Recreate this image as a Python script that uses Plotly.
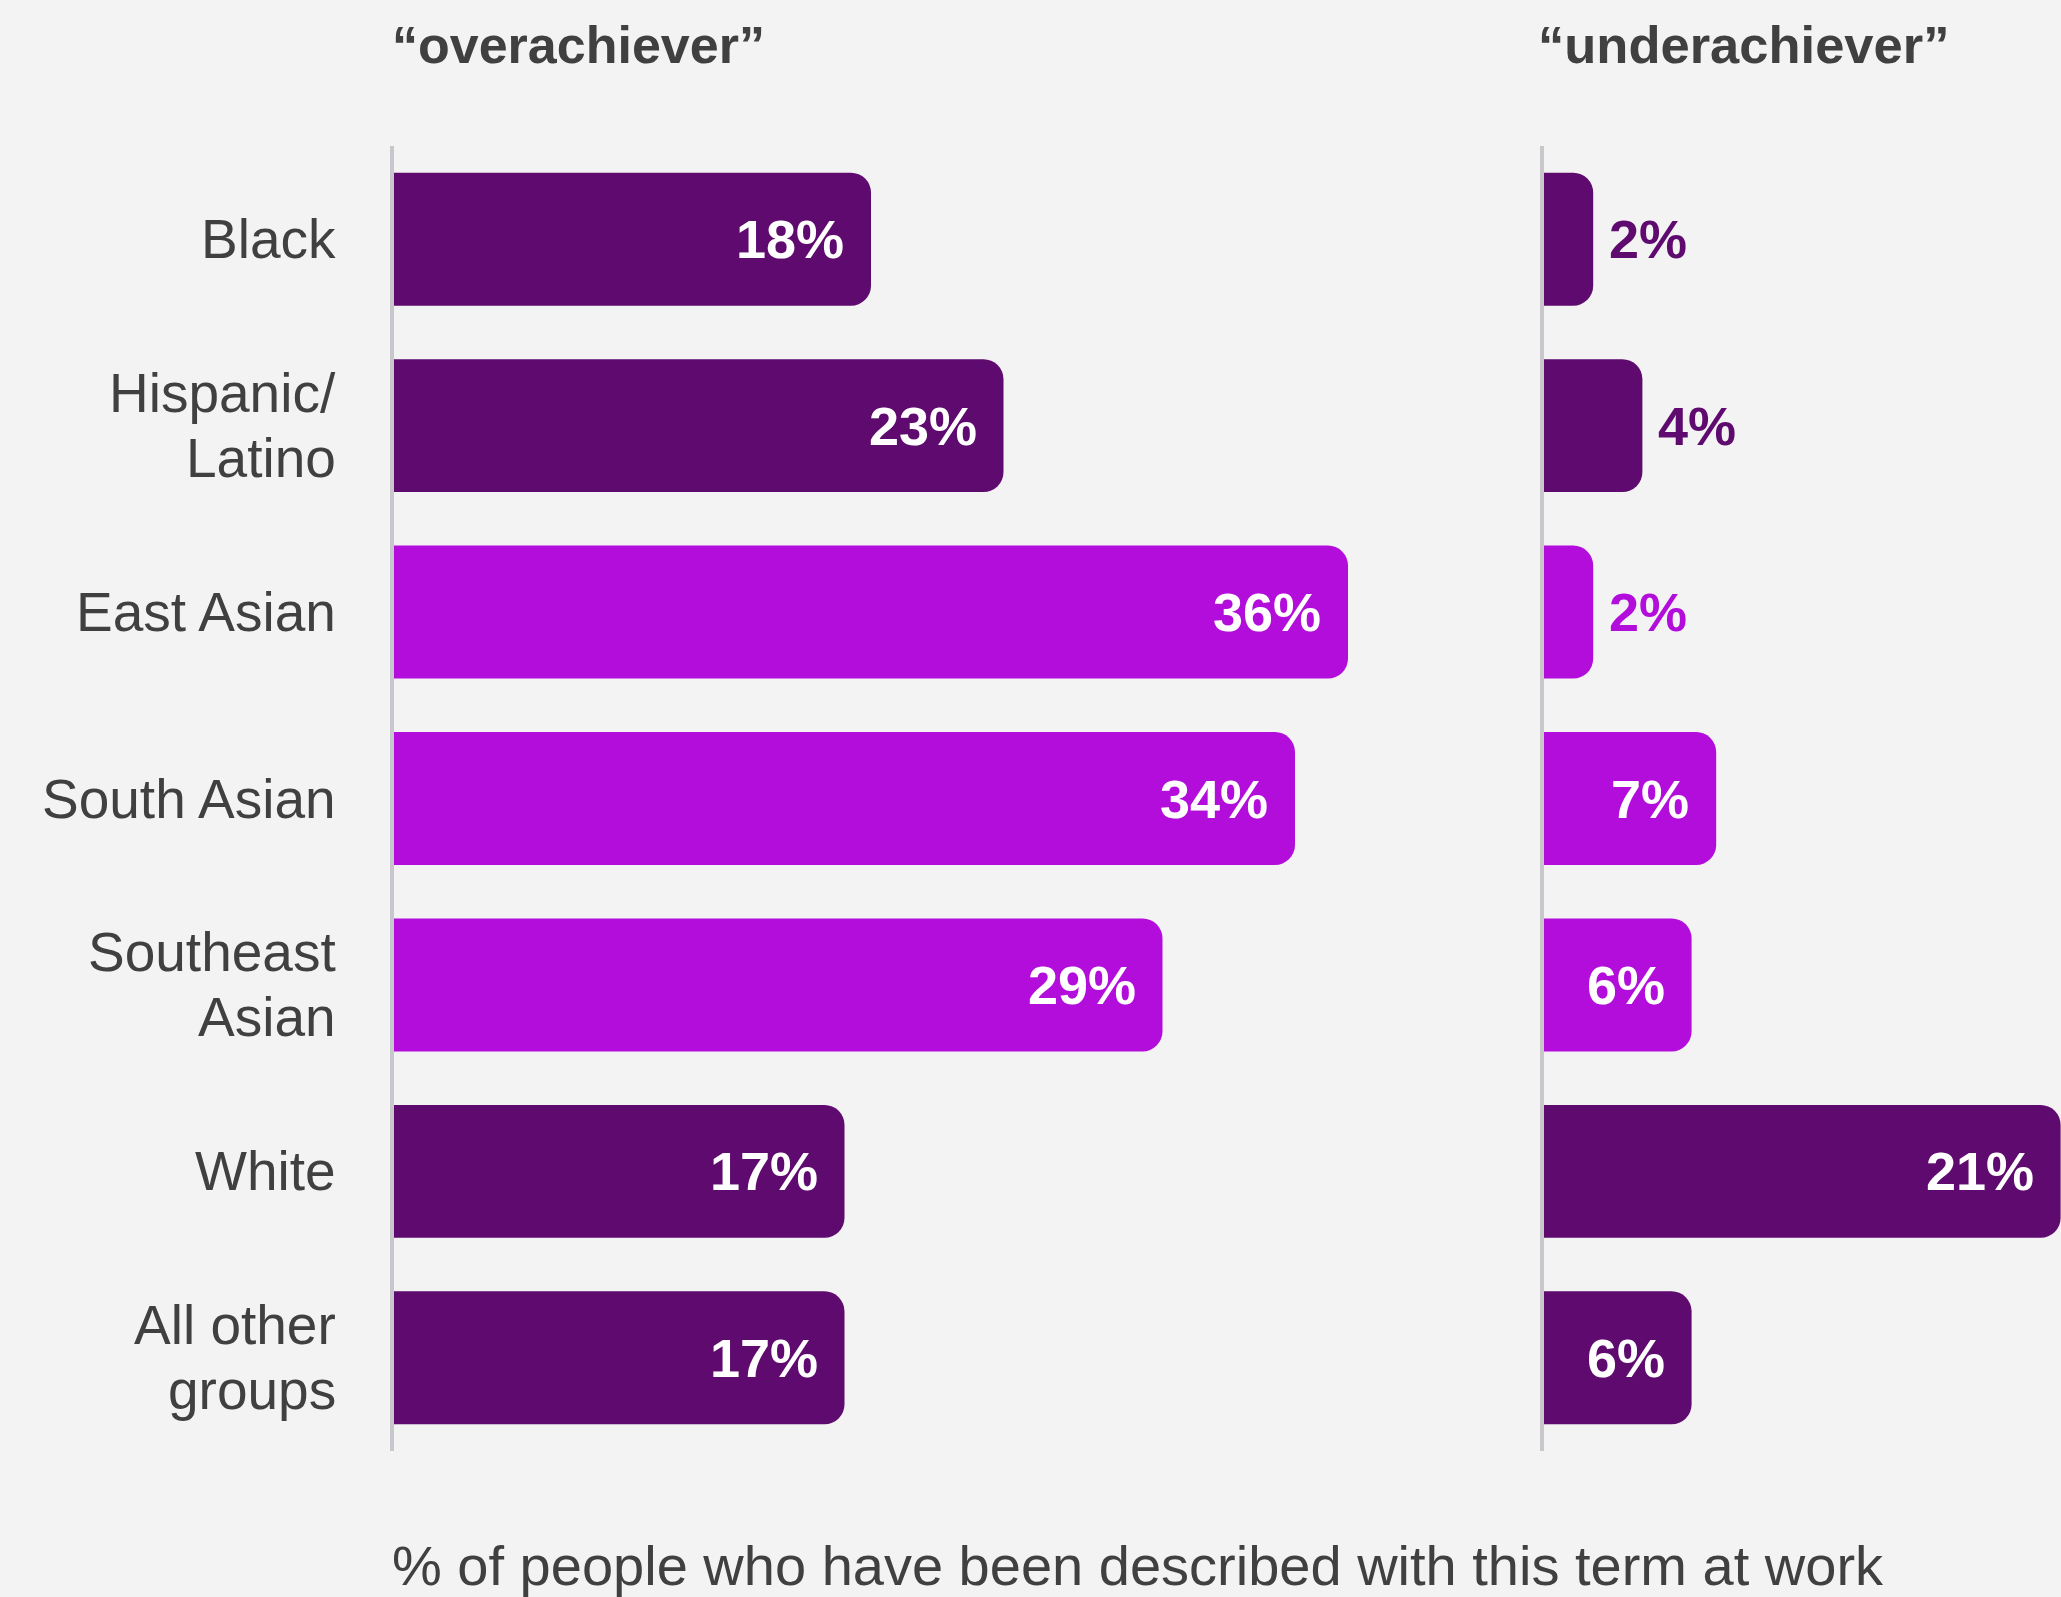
import plotly.graph_objects as go

# ---- data -------------------------------------------------------------
categories = [
    "Black",
    "Hispanic/<br>Latino",
    "East Asian",
    "South Asian",
    "Southeast<br>Asian",
    "White",
    "All other<br>groups",
]
overachiever = [18, 23, 36, 34, 29, 17, 17]
underachiever = [2, 4, 2, 7, 6, 21, 6]
asian_group = [False, False, True, True, True, False, False]

panel_titles = ["\u201coverachiever\u201d", "\u201cunderachiever\u201d"]
footnote = "% of people who have been described with this term at work"

# ---- style ------------------------------------------------------------
W, H = 2061, 1597
BG = "#f3f3f3"
TEXT = "#404040"
DARK = "#5e0a6e"
BRIGHT = "#b30ddb"
AXIS = "#c8c8cc"
FONT = "Liberation Sans"

PLOT_TOP, PLOT_BOTTOM = 146, 1451
LEFT_X0, LEFT_X1 = 394, 1394
RIGHT_X0 = 1544
LEFT_PX_PER_PCT = 26.5
RIGHT_PX_PER_PCT = 24.6
LABEL_RIGHT = 338      # right edge of the category labels
LINE_STEP = 65         # line spacing of two-line category labels


def paper_y(px):
    return (PLOT_BOTTOM - px) / (PLOT_BOTTOM - PLOT_TOP)


colors = [BRIGHT if a else DARK for a in asian_group]

fig = go.Figure()
fig.add_bar(y=categories, x=overachiever, orientation="h",
            marker=dict(color=colors, line=dict(width=0)),
            xaxis="x", yaxis="y", hoverinfo="skip")
fig.add_bar(y=categories, x=underachiever, orientation="h",
            marker=dict(color=colors, line=dict(width=0)),
            xaxis="x2", yaxis="y2", hoverinfo="skip")

annotations = []

# category labels, one annotation per line so the line spacing stays tight
for cat in categories:
    lines = cat.split("<br>")
    n = len(lines)
    for i, line in enumerate(lines):
        annotations.append(dict(
            x=LABEL_RIGHT / W, y=cat, xref="paper", yref="y",
            text=line, showarrow=False, xanchor="right", yanchor="middle",
            yshift=((n - 1) / 2 - i) * LINE_STEP,
            font=dict(family=FONT, size=55, color=TEXT),
        ))

# value labels: inside the bar end when it fits, otherwise just past it
for xref, yref, values in (("x", "y", overachiever), ("x2", "y2", underachiever)):
    for cat, v, col in zip(categories, values, colors):
        inside = v >= 5
        annotations.append(dict(
            x=v, y=cat, xref=xref, yref=yref,
            text=f"<b>{v}%</b>", showarrow=False,
            xanchor="right" if inside else "left",
            xshift=-25 if inside else 14,
            font=dict(family=FONT, size=54, color="white" if inside else col),
        ))

# panel headings
annotations.append(dict(text=f"<b>{panel_titles[0]}</b>", xref="paper", yref="paper",
                        x=390 / W, y=paper_y(45), xanchor="left", yanchor="middle",
                        showarrow=False, font=dict(family=FONT, size=52, color=TEXT)))
annotations.append(dict(text=f"<b>{panel_titles[1]}</b>", xref="paper", yref="paper",
                        x=1536 / W, y=paper_y(45), xanchor="left", yanchor="middle",
                        showarrow=False, font=dict(family=FONT, size=52.5, color=TEXT)))
# footnote
annotations.append(dict(text=footnote, xref="paper", yref="paper",
                        x=390 / W, y=paper_y(1565), xanchor="left", yanchor="middle",
                        showarrow=False, font=dict(family=FONT, size=56, color=TEXT)))

hidden_x = dict(showgrid=False, zeroline=False, showticklabels=False, ticks="",
                showline=False, fixedrange=True)
y_common = dict(type="category", categoryorder="array", categoryarray=categories,
                range=[6.5, -0.5], showgrid=False, zeroline=False,
                showline=True, linecolor=AXIS, linewidth=4, ticks="",
                showticklabels=False, domain=[0, 1], fixedrange=True)

fig.update_layout(
    width=W, height=H,
    paper_bgcolor=BG, plot_bgcolor=BG,
    margin=dict(l=0, r=0, t=PLOT_TOP, b=H - PLOT_BOTTOM, pad=0),
    showlegend=False,
    bargap=1 - 133 / 186.5,
    barcornerradius=20,
    font=dict(family=FONT, color=TEXT),
    xaxis=dict(domain=[LEFT_X0 / W, LEFT_X1 / W],
               range=[0, (LEFT_X1 - LEFT_X0) / LEFT_PX_PER_PCT], anchor="y", **hidden_x),
    xaxis2=dict(domain=[RIGHT_X0 / W, 1],
                range=[0, (W - RIGHT_X0) / RIGHT_PX_PER_PCT], anchor="y2", **hidden_x),
    yaxis=dict(anchor="x", **y_common),
    yaxis2=dict(anchor="x2", **y_common),
    annotations=annotations,
)

fig.write_html("out.html")
